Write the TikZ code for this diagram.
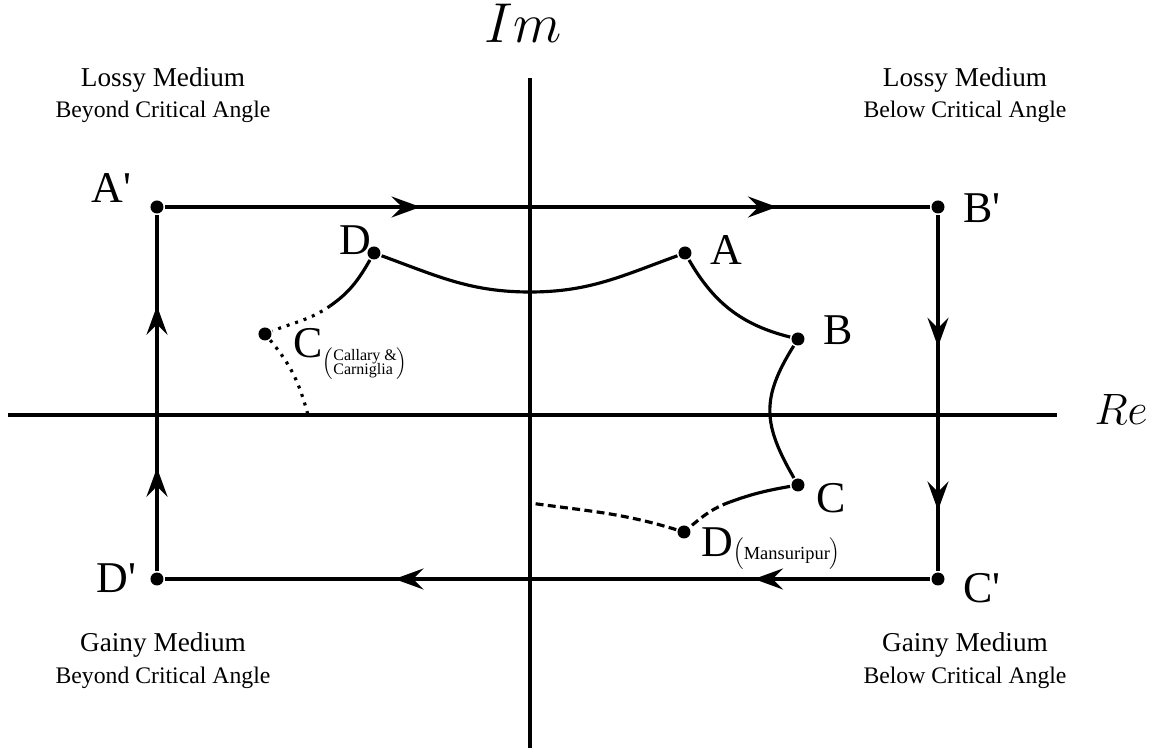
\RequirePackage{fix-cm}
\documentclass[tikz,border=0pt]{standalone}
\usepackage[no-math]{fontspec}
\setmainfont{Liberation Serif}
\usetikzlibrary{arrows.meta,decorations.markings}

\begin{document}
\begin{tikzpicture}[
  line width=1.8pt,
  pdot/.style={circle,fill,inner sep=0pt,minimum size=2.6mm},
  lbl/.style={inner sep=0pt,anchor=base west,font=\fontsize{25}{30}\selectfont},
  region/.style={inner sep=0pt,anchor=base,align=center,font=\fontsize{15.5}{18}\selectfont},
  ftip/.tip={Stealth[length=5.8mm,width=4.2mm,inset=2.1mm]},
  flow/.style 2 args={postaction={decorate,decoration={markings,
      mark=at position #1 with {\arrow{ftip}},
      mark=at position #2 with {\arrow{ftip}}}}},
  dotline/.style={dash pattern=on 1.7pt off 3.4pt},
  dashline/.style={dash pattern=on 4.5pt off 2.5pt}
]
\useasboundingbox (-10.6,-6.74) rectangle (12.86,8.3);

% axes
\coordinate (rel) at (-10.44,0);
\coordinate (rer) at (10.54,0);
\coordinate (imb) at (0,-6.66);
\coordinate (imt) at (0,6.74);
\draw (rel) -- (rer);
\draw (imb) -- (imt);
\node[inner sep=0pt,anchor=base,font=\fontsize{32}{36}\selectfont] (imlabel) at (-0.14,7.44) {$Im$};
\node[inner sep=0pt,anchor=base west,font=\fontsize{25}{30}\selectfont] (relabel) at (11.26,-0.2) {$Re$};

% quadrant notes (anchored on the lower line)
\node[region] (nw) at (-7.34,5.94) {Lossy Medium\\{\fontsize{13.5}{18}\selectfont Beyond Critical Angle}};
\node[region] (ne) at (8.70,5.94) {Lossy Medium\\{\fontsize{13.5}{18}\selectfont Below Critical Angle}};
\node[region] (sw) at (-7.34,-5.36) {Gainy Medium\\{\fontsize{13.5}{18}\selectfont Beyond Critical Angle}};
\node[region] (se) at (8.70,-5.36) {Gainy Medium\\{\fontsize{13.5}{18}\selectfont Below Critical Angle}};

% outer contour
\node[pdot] (Ap) at (-7.46,4.16) {};
\node[pdot] (Bp) at (8.16,4.16) {};
\node[pdot] (Cp) at (8.16,-3.28) {};
\node[pdot] (Dp) at (-7.46,-3.28) {};
\draw[flow={0.334}{0.8}] (Ap) -- (Bp);
\draw[flow={0.37}{0.83}] (Bp) -- (Cp);
\draw[flow={0.23}{0.70}] (Cp) -- (Dp);
\draw[flow={0.29}{0.745}] (Dp) -- (Ap);
\node[lbl] (lAp) at (-8.80,4.24) {A\textquotesingle};
\node[lbl] (lBp) at (8.64,3.84) {B\textquotesingle};
\node[lbl] (lCp) at (8.64,-3.76) {C\textquotesingle};
\node[lbl] (lDp) at (-8.70,-3.56) {D\textquotesingle};

% inner contour
\node[pdot] (D) at (-3.12,3.24) {};
\node[pdot] (A) at (3.10,3.24) {};
\node[pdot] (B) at (5.36,1.52) {};
\node[pdot] (C) at (5.36,-1.40) {};
\node[pdot] (Ccc) at (-5.30,1.62) {};
\node[pdot] (Dm) at (3.08,-2.34) {};
\coordinate (dalow) at (0,2.46);
\coordinate (cdsplit) at (4.0,-1.74);
\coordinate (dmaxis) at (0,-1.76);
\coordinate (dcsplit) at (-4.0,2.18);
\coordinate (ccaxis) at (-4.44,0);
\draw (D) to[out=-20,in=180] (dalow) to[out=0,in=-160] (A);
\draw (A) to[out=-60,in=166] (B);
\draw (B) to[out=-122,in=120,looseness=1.2] (C);
\draw (C) to[out=190,in=20] (cdsplit);
\draw[dashline] (cdsplit) to[out=200,in=40] (Dm);
\draw[dashline] (Dm) to[out=163,in=-8] (dmaxis);
\draw (D) to[out=240,in=35] (dcsplit);
\draw[dotline] (dcsplit) to[out=215,in=22] (Ccc);
\draw[dotline] (Ccc) to[out=-50,in=105] (ccaxis);
\node[lbl] (lD) at (-3.84,3.20) {D};
\node[lbl] (lA) at (3.58,3.00) {A};
\node[lbl] (lB) at (5.84,1.40) {B};
\node[lbl] (lC) at (5.70,-1.96) {C};
\node[lbl] (lCcc) at (-4.76,1.14) {C\raisebox{-5.7pt}{\fontsize{10.4}{12}\selectfont$\left(\vcenter{\fontsize{9.1}{8}\selectfont\lineskiplimit=-\maxdimen\hbox{Callary \&}\hbox{Carniglia}}\right)$}};
\node[lbl] (lDm) at (3.40,-2.84) {D\raisebox{-1.5pt}{\fontsize{12.75}{14}\selectfont$\left(\rule[-4.5pt]{0pt}{11pt}\hbox{\fontsize{10.5}{12}\selectfont Mansuripur}\right)$}};
\end{tikzpicture}
\end{document}
